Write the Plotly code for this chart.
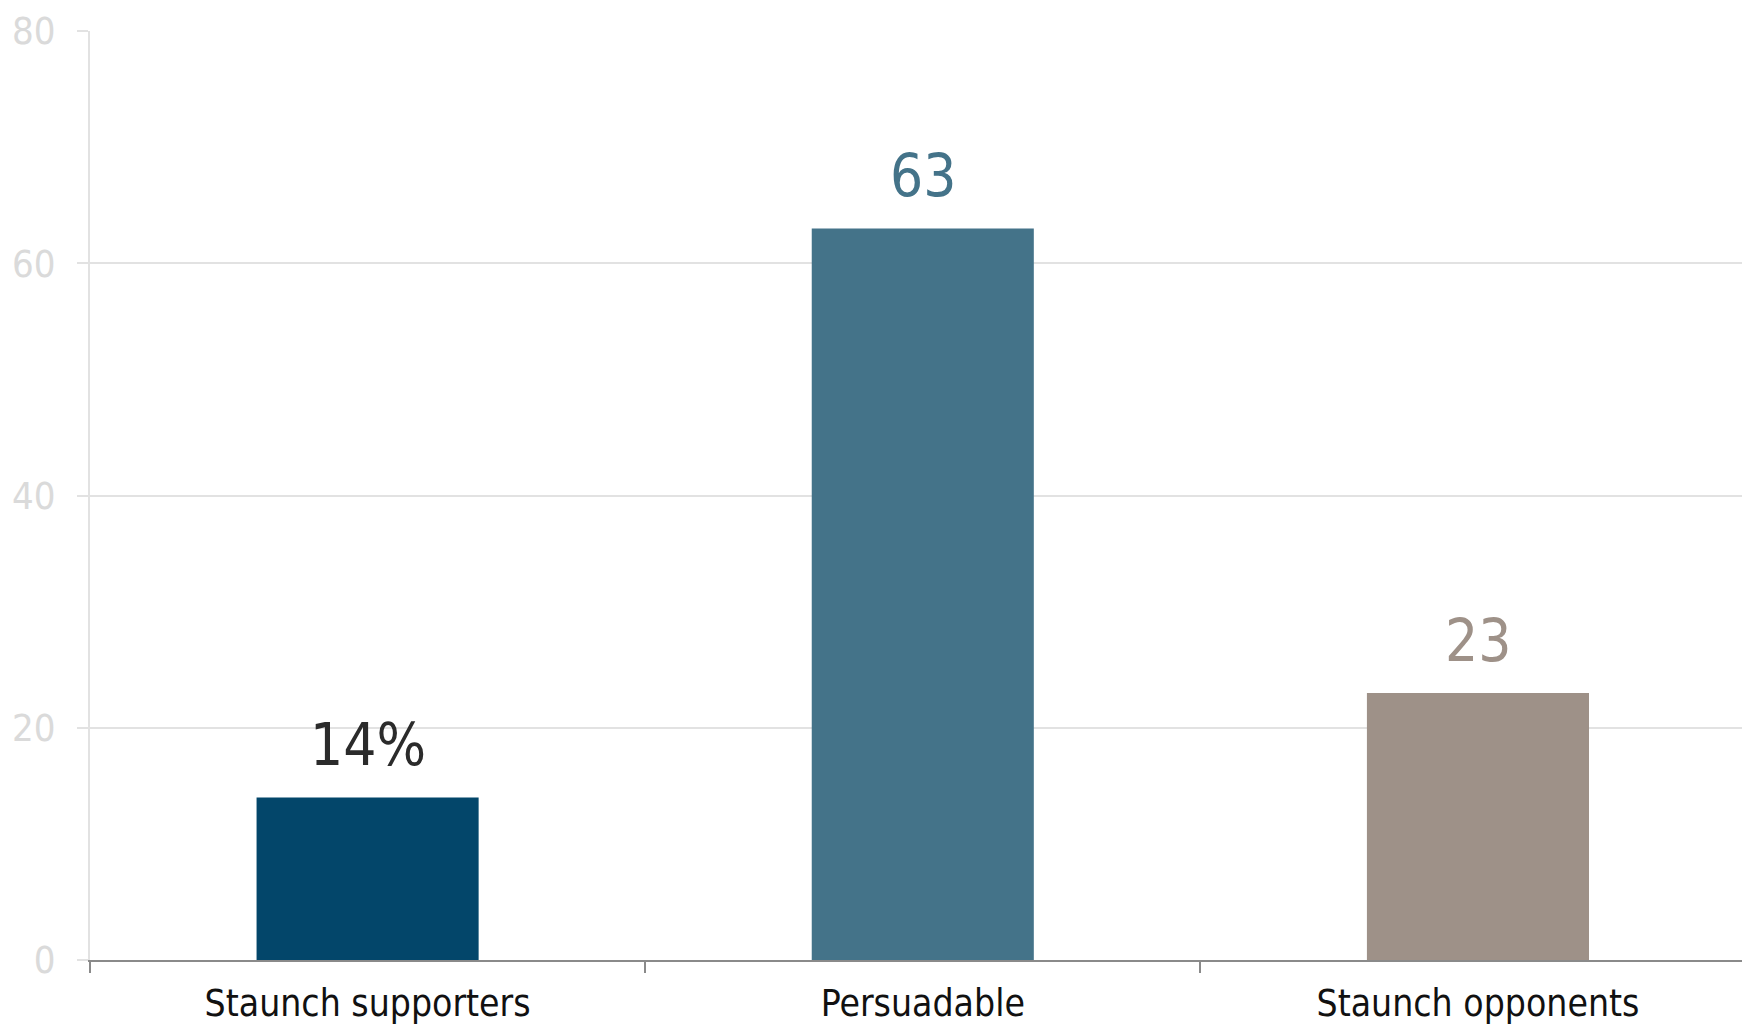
import plotly.graph_objects as go

categories = ["Staunch supporters", "Persuadable", "Staunch opponents"]
values = [14, 63, 23]
value_labels = ["14%", "63", "23"]
bar_colors = ["#03466a", "#447389", "#9e9188"]
label_colors = ["#2b2b2b", "#447389", "#9e9188"]
y_ticks = [0, 20, 40, 60, 80]

FONT = "DejaVu Sans Condensed, Liberation Sans Narrow, sans-serif"

fig = go.Figure()
fig.add_trace(go.Bar(
    x=categories, y=values,
    marker=dict(color=bar_colors, line=dict(width=0)),
    hoverinfo="skip",
))

for c, v, t, col in zip(categories, values, value_labels, label_colors):
    fig.add_annotation(
        x=c, y=v, text=t, showarrow=False,
        yanchor="bottom", yshift=16,
        font=dict(family=FONT, size=58, color=col),
    )

fig.update_layout(
    width=1742, height=1020,
    margin=dict(l=82, r=0, t=23, b=68),
    paper_bgcolor="white", plot_bgcolor="white",
    bargap=0.6,
    showlegend=False,
    font=dict(family=FONT),
)
fig.update_xaxes(
    range=[-0.5, 2.49], automargin=False,
    showline=True, linecolor="#8a8a8a", linewidth=2,
    ticks="outside", tickson="boundaries", ticklen=11, tickcolor="#8a8a8a", tickwidth=2,
    ticklabelstandoff=10,
    tickfont=dict(family=FONT, size=37, color="#111111"),
    showgrid=False,
)
fig.update_yaxes(
    range=[0, 80], tickvals=y_ticks, automargin=False,
    showgrid=True, gridcolor="#e2e2e2", gridwidth=2,
    zeroline=False,
    showline=True, linecolor="#e2e2e2", linewidth=2,
    ticks="outside", ticklen=11, tickcolor="#e2e2e2", tickwidth=2,
    ticklabelstandoff=14,
    tickfont=dict(family=FONT, size=38, color="#dadada"),
)

fig.write_html("out.html")
